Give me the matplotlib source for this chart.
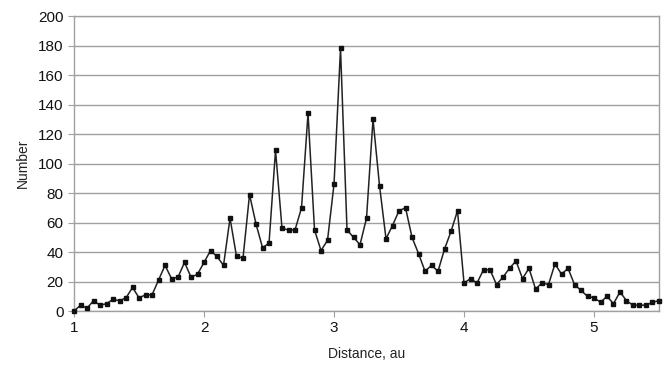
import matplotlib
matplotlib.use("Agg")
import matplotlib.pyplot as plt

distance = [1.00, 1.05, 1.10, 1.15, 1.20, 1.25, 1.30, 1.35, 1.40, 1.45,
            1.50, 1.55, 1.60, 1.65, 1.70, 1.75, 1.80, 1.85, 1.90, 1.95,
            2.00, 2.05, 2.10, 2.15, 2.20, 2.25, 2.30, 2.35, 2.40, 2.45,
            2.50, 2.55, 2.60, 2.65, 2.70, 2.75, 2.80, 2.85, 2.90, 2.95,
            3.00, 3.05, 3.10, 3.15, 3.20, 3.25, 3.30, 3.35, 3.40, 3.45,
            3.50, 3.55, 3.60, 3.65, 3.70, 3.75, 3.80, 3.85, 3.90, 3.95,
            4.00, 4.05, 4.10, 4.15, 4.20, 4.25, 4.30, 4.35, 4.40, 4.45,
            4.50, 4.55, 4.60, 4.65, 4.70, 4.75, 4.80, 4.85, 4.90, 4.95,
            5.00, 5.05, 5.10, 5.15, 5.20, 5.25, 5.30, 5.35, 5.40, 5.45,
            5.50]
number = [0, 4, 2, 7, 4, 5, 8, 7, 9, 16,
          9, 11, 11, 21, 31, 22, 23, 33, 23, 25,
          33, 41, 37, 31, 63, 37, 36, 79, 59, 43,
          46, 109, 56, 55, 55, 70, 134, 55, 41, 48,
          86, 178, 55, 50, 45, 63, 130, 85, 49, 58,
          68, 70, 50, 39, 27, 31, 27, 42, 54, 68,
          19, 22, 19, 28, 28, 18, 23, 29, 34, 22,
          29, 15, 19, 18, 32, 25, 29, 18, 14, 10,
          9, 6, 10, 5, 13, 7, 4, 4, 4, 6,
          7]
xticks = [1, 2, 3, 4, 5]
yticks = list(range(0, 201, 20))

plt.rcParams['font.family'] = ['Liberation Sans', 'DejaVu Sans']

fig = plt.figure(figsize=(6.67, 3.73), dpi=100)
ax = fig.add_axes([0.111, 0.166, 0.877, 0.791])

ax.plot(distance, number, color='#222222', linewidth=1.1, marker='s',
        markersize=3.5, markerfacecolor='#111111', markeredgecolor='#111111',
        clip_on=False, zorder=3)

ax.set_xlim(1, 5.5)
ax.set_ylim(0, 200)
ax.set_xticks(xticks)
ax.set_yticks(yticks)
ax.grid(axis='y', color='#a0a0a0', linewidth=1)
ax.set_axisbelow(True)
for s in ['left', 'bottom', 'right', 'top']:
    ax.spines[s].set_color('#a0a0a0')
    ax.spines[s].set_linewidth(1)
ax.tick_params(axis='both', colors='#a0a0a0', labelcolor='#111111',
               labelsize=11, length=4)
ax.set_xlabel('Distance, au', fontsize=10, color='#222222', labelpad=8)
ax.set_ylabel('Number', fontsize=10, color='#222222', labelpad=6)

fig.savefig('out.png', dpi=100)
